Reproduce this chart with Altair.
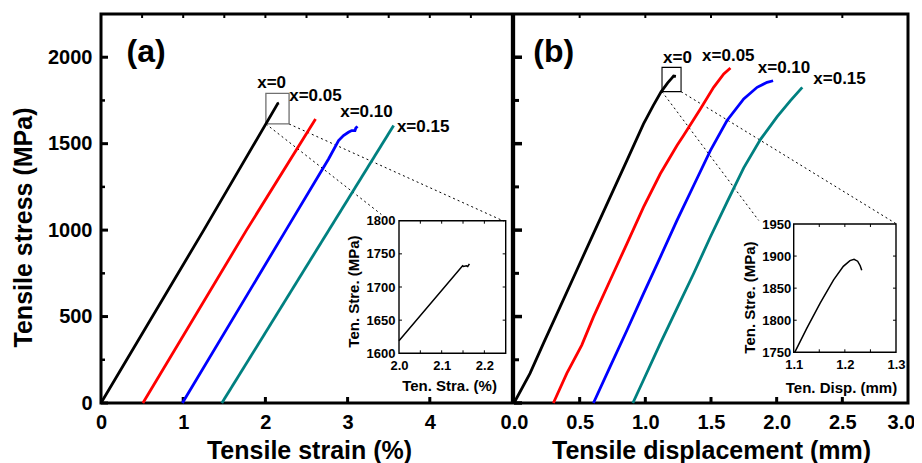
import altair as alt
import pandas as pd

# ---------------- data ----------------
SERIES = ["x=0", "x=0.05", "x=0.10", "x=0.15"]
COLORS = ["#000000", "#ff0000", "#0000ff", "#008080"]

# panel (a): tensile strain (%) -> tensile stress (MPa)
a_strain_0 = [0.0, 1.25, 2.15, 2.165]
a_stress_0 = [0, 1000, 1732, 1735]
a_strain_05 = [0.51, 1.77, 2.61]
a_stress_05 = [0, 1000, 1643]
a_strain_10 = [0.99, 2.25, 2.77, 2.89, 2.95, 3.01, 3.05, 3.09, 3.10, 3.12]
a_stress_10 = [0, 1000, 1413, 1518, 1547, 1566, 1576, 1576, 1590, 1600]
a_strain_15 = [1.47, 3.56]
a_stress_15 = [0, 1605]

# panel (b): tensile displacement (mm) -> tensile stress (MPa)
b_disp_0 = [0.0, 0.122, 0.224, 0.351, 0.478, 0.605, 0.732, 0.86, 0.986, 1.06, 1.12, 1.17, 1.20, 1.215, 1.233]
b_stress_0 = [0, 171, 345, 556, 768, 980, 1191, 1403, 1614, 1720, 1800, 1852, 1878, 1891, 1889]
b_disp_05 = [0.30, 0.402, 0.516, 0.605, 0.732, 0.86, 0.986, 1.114, 1.241, 1.291, 1.419, 1.52, 1.597, 1.648]
b_stress_05 = [0, 171, 335, 498, 710, 922, 1133, 1326, 1489, 1547, 1701, 1826, 1903, 1938]
b_disp_10 = [0.605, 0.732, 0.86, 0.986, 1.114, 1.241, 1.368, 1.495, 1.622, 1.749, 1.851, 1.927, 1.973]
b_stress_10 = [0, 210, 421, 633, 844, 1056, 1258, 1460, 1634, 1759, 1826, 1855, 1864]
b_disp_15 = [0.905, 0.986, 1.114, 1.241, 1.368, 1.495, 1.622, 1.749, 1.877, 2.004, 2.105, 2.195]
b_stress_15 = [0, 133, 345, 547, 749, 960, 1162, 1360, 1525, 1656, 1749, 1826]

# insets (x = 0 only)
ia_strain = [2.0, 2.149, 2.151, 2.158, 2.161, 2.165]
ia_stress = [1619, 1732, 1731, 1732, 1731, 1735]
ib_disp = [1.102, 1.126, 1.152, 1.178, 1.197, 1.210, 1.218, 1.225, 1.230, 1.233]
ib_stress = [1750, 1788, 1827, 1863, 1884, 1893, 1895, 1892, 1885, 1878]

# curve labels (left end of text, baseline) in each panel's data units
a_lab_x = [1.90, 2.29, 2.91, 3.60]
a_lab_y = [1822, 1745, 1657, 1570]
b_lab_x = [1.135, 1.432, 1.856, 2.279]
b_lab_y = [1964, 1976, 1907, 1845]

# zoom boxes and dashed connectors (panel data units)
a_box = [2.006, 2.288, 1614, 1791]
b_box = [1.127, 1.272, 1801, 1941]
a_conn_x1 = [2.006, 2.288]
a_conn_y1 = [1614, 1614]
a_conn_x2 = [3.41, 4.90]
a_conn_y2 = [1091, 1052]
b_conn_x1 = [1.127, 1.272]
b_conn_y1 = [1801, 1801]
b_conn_x2 = [1.863, 2.914]
b_conn_y2 = [1056, 1035]

# axis domains and tick values
A_XDOM = [0, 5]
B_XDOM = [0, 3]
YDOM = [0, 2250]
IA_XDOM = [2.0, 2.25]
IA_YDOM = [1600, 1800]
IB_XDOM = [1.1, 1.3]
IB_YDOM = [1750, 1950]

stress_labels = [0, 500, 1000, 1500, 2000]
stress_minor = [250, 750, 1250, 1750]
strain_labels = [0, 1, 2, 3, 4]
strain_bottom_ticks = [1, 2, 3, 4]
strain_top_ticks = [0.5, 1, 1.5, 2, 2.5, 3, 3.5, 4, 4.5]
disp_labels = [0.0, 0.5, 1.0, 1.5, 2.0, 2.5, 3.0]
disp_bottom_ticks = [0.5, 1.0, 1.5, 2.0, 2.5]
disp_top_ticks = [0.5, 1.0, 1.5, 2.0, 2.5]
ia_x_labels = [2.0, 2.1, 2.2]
ia_x_ticks = [2.05, 2.1, 2.15, 2.2]
ia_y_labels = [1600, 1650, 1700, 1750, 1800]
ia_y_ticks = [1650, 1700, 1750]
ib_x_labels = [1.1, 1.2, 1.3]
ib_x_ticks = [1.15, 1.2, 1.25]
ib_y_labels = [1750, 1800, 1850, 1900, 1950]
ib_y_ticks = [1800, 1850, 1900]

# ---------------- layout (pixels inside the plot area) ----------------
W, H = 807, 389
A_XR = [0, 411]
B_XR = [413, 807]
Y_R = [389, 0]
IA_XR = [298, 404.7]
IA_YR = [339.3, 206.7]
IB_XR = [692.7, 795]
IB_YR = [338.3, 210]
FONT = "Liberation Sans"


def sc(dom, rng):
    return alt.Scale(domain=dom, range=rng, nice=False, zero=False)


xa, ya = sc(A_XDOM, A_XR), sc(YDOM, Y_R)
xb, yb = sc(B_XDOM, B_XR), sc(YDOM, Y_R)
xia, yia = sc(IA_XDOM, IA_XR), sc(IA_YDOM, IA_YR)
xib, yib = sc(IB_XDOM, IB_XR), sc(IB_YDOM, IB_YR)
cscale = alt.Scale(domain=SERIES, range=COLORS)

common_axis = dict(ticks=False, tickSize=0, domain=False, grid=False,
                   labelFlush=False, labelOverlap=False,
                   labelFont=FONT, labelFontWeight="bold", labelColor="black",
                   titleFont=FONT, titleFontWeight="bold", titleColor="black")


def curves_df(xs_list, ys_list):
    rows = []
    for s, xs, ys in zip(SERIES, xs_list, ys_list):
        for i, (x, y) in enumerate(zip(xs, ys)):
            rows.append({"s": s, "i": i, "x": x, "y": y})
    return pd.DataFrame(rows)


def ticks_h(vals, edge, xs, ys, length, width):
    df = pd.DataFrame({"v": vals, "e": [edge] * len(vals)})
    return alt.Chart(df).mark_rule(color="black", strokeWidth=width, x2Offset=length).encode(
        y=alt.Y("v:Q", scale=ys, axis=None),
        x=alt.X("e:Q", scale=xs, axis=None), x2="e:Q")


def ticks_v(vals, edge, xs, ys, length, width):
    df = pd.DataFrame({"v": vals, "e": [edge] * len(vals)})
    return alt.Chart(df).mark_rule(color="black", strokeWidth=width, y2Offset=length).encode(
        x=alt.X("v:Q", scale=xs, axis=None),
        y=alt.Y("e:Q", scale=ys, axis=None), y2="e:Q")


def box(b, xs, ys, color, width):
    df = pd.DataFrame({"x1": [b[0]], "x2": [b[1]], "y1": [b[2]], "y2": [b[3]]})
    return alt.Chart(df).mark_rect(fillOpacity=0, stroke=color, strokeWidth=width).encode(
        x=alt.X("x1:Q", scale=xs, axis=None), x2="x2:Q",
        y=alt.Y("y1:Q", scale=ys, axis=None), y2="y2:Q")


def connectors(x1, y1, x2, y2, xs, ys):
    df = pd.DataFrame({"x1": x1, "y1": y1, "x2": x2, "y2": y2})
    return alt.Chart(df).mark_rule(color="black", strokeWidth=1, strokeDash=[2, 3]).encode(
        x=alt.X("x1:Q", scale=xs, axis=None), x2="x2:Q",
        y=alt.Y("y1:Q", scale=ys, axis=None), y2="y2:Q")


def labels(xs_v, ys_v, texts, xs, ys, size):
    df = pd.DataFrame({"x": xs_v, "y": ys_v, "t": texts})
    return alt.Chart(df).mark_text(align="left", baseline="alphabetic", font=FONT,
                                   fontWeight="bold", fontSize=size, color="black").encode(
        x=alt.X("x:Q", scale=xs, axis=None), y=alt.Y("y:Q", scale=ys, axis=None), text="t:N")


# ---------------- panel (a) ----------------
df_a = curves_df([a_strain_0, a_strain_05, a_strain_10, a_strain_15],
                 [a_stress_0, a_stress_05, a_stress_10, a_stress_15])
lines_a = alt.Chart(df_a).mark_line(strokeWidth=2.8).encode(
    x=alt.X("x:Q", scale=xa, axis=alt.Axis(
        orient="bottom", values=strain_labels, format="d", labelPadding=25,
        labelBaseline="alphabetic", labelFontSize=20,
        title="Tensile strain (%)", titleFontSize=25, titleX=208, titleY=55,
        titleBaseline="alphabetic", titleAlign="center", **common_axis)),
    y=alt.Y("y:Q", scale=ya, axis=alt.Axis(
        orient="left", values=stress_labels, format="d", labelPadding=9, labelFontSize=20,
        title="Tensile stress (MPa)", titleFontSize=25, titleAngle=270, titleX=-70, titleY=213,
        titleBaseline="alphabetic", titleAlign="center", **common_axis)),
    color=alt.Color("s:N", scale=cscale, legend=None),
    order="i:Q")

# ---------------- panel (b) ----------------
df_b = curves_df([b_disp_0, b_disp_05, b_disp_10, b_disp_15],
                 [b_stress_0, b_stress_05, b_stress_10, b_stress_15])
lines_b = alt.Chart(df_b).mark_line(strokeWidth=2.8).encode(
    x=alt.X("x:Q", scale=xb, axis=alt.Axis(
        orient="bottom", values=disp_labels, format=".1f", labelPadding=25,
        labelBaseline="alphabetic", labelFontSize=20,
        labelOffset={"condition": {"test": "datum.value >= 3", "value": -7}, "value": 0},
        title="Tensile displacement (mm)", titleFontSize=25, titleX=610, titleY=55,
        titleBaseline="alphabetic", titleAlign="center", **common_axis)),
    y=alt.Y("y:Q", scale=yb, axis=None),
    color=alt.Color("s:N", scale=cscale, legend=None),
    order="i:Q")

# ---------------- insets ----------------
df_ia = pd.DataFrame({"i": range(len(ia_strain)), "x": ia_strain, "y": ia_stress})
lines_ia = alt.Chart(df_ia).mark_line(strokeWidth=1.5, color="black").encode(
    x=alt.X("x:Q", scale=xia, axis=alt.Axis(
        orient="bottom", offset=-(H - IA_YR[0]), values=ia_x_labels, format=".1f",
        labelPadding=16, labelBaseline="alphabetic", labelFontSize=13,
        title="Ten. Stra. (%)", titleFontSize=15, titleX=348, titleY=37,
        titleBaseline="alphabetic", titleAlign="center", **common_axis)),
    y=alt.Y("y:Q", scale=yia, axis=alt.Axis(
        orient="left", offset=-IA_XR[0], values=ia_y_labels, format="d",
        labelPadding=4, labelFontSize=13,
        title="Ten. Stre. (MPa)", titleFontSize=15, titleAngle=270, titleX=-40.5, titleY=277,
        titleBaseline="alphabetic", titleAlign="center", **common_axis)),
    order="i:Q")

df_ib = pd.DataFrame({"i": range(len(ib_disp)), "x": ib_disp, "y": ib_stress})
lines_ib = alt.Chart(df_ib).mark_line(strokeWidth=1.5, color="black").encode(
    x=alt.X("x:Q", scale=xib, axis=alt.Axis(
        orient="bottom", offset=-(H - IB_YR[0]), values=ib_x_labels, format=".1f",
        labelPadding=16, labelBaseline="alphabetic", labelFontSize=13,
        title="Ten. Disp. (mm)", titleFontSize=15, titleX=740, titleY=40,
        titleBaseline="alphabetic", titleAlign="center", **common_axis)),
    y=alt.Y("y:Q", scale=yib, axis=alt.Axis(
        orient="left", offset=-IB_XR[0], values=ib_y_labels, format="d",
        labelPadding=3, labelFontSize=13,
        title="Ten. Stre. (MPa)", titleFontSize=15, titleAngle=270, titleX=-39.7, titleY=283,
        titleBaseline="alphabetic", titleAlign="center", **common_axis)),
    order="i:Q")

# divider between the panels
divider = alt.Chart(pd.DataFrame({"e": [A_XDOM[1]]})).mark_rule(
    color="black", strokeWidth=4.3, xOffset=1).encode(x=alt.X("e:Q", scale=xa, axis=None))

layers = [
    # ticks of main panels
    ticks_h(stress_labels, A_XDOM[0], xa, ya, 7, 3),
    ticks_h(stress_minor, A_XDOM[0], xa, ya, 4, 2.5),
    ticks_v(strain_bottom_ticks, YDOM[0], xa, ya, -6, 3),
    ticks_v(strain_top_ticks, YDOM[1], xa, ya, 4, 2),
    ticks_h(stress_labels, B_XDOM[0], xb, yb, 8, 3.5),
    ticks_h(stress_minor, B_XDOM[0], xb, yb, 5, 3),
    ticks_v(disp_bottom_ticks, YDOM[0], xb, yb, -6, 3),
    ticks_v(disp_top_ticks, YDOM[1], xb, yb, 4, 2),
    # inset frames and ticks
    box([IA_XDOM[0], IA_XDOM[1], IA_YDOM[0], IA_YDOM[1]], xia, yia, "black", 1.4),
    box([IB_XDOM[0], IB_XDOM[1], IB_YDOM[0], IB_YDOM[1]], xib, yib, "black", 1.4),
    ticks_v(ia_x_ticks, IA_YDOM[0], xia, yia, -3, 1),
    ticks_v(ia_x_ticks, IA_YDOM[1], xia, yia, 3, 1),
    ticks_h(ia_y_ticks, IA_XDOM[0], xia, yia, 3, 1),
    ticks_h(ia_y_ticks, IA_XDOM[1], xia, yia, -3, 1),
    ticks_v(ib_x_ticks, IB_YDOM[0], xib, yib, -3, 1),
    ticks_v(ib_x_ticks, IB_YDOM[1], xib, yib, 3, 1),
    ticks_h(ib_y_ticks, IB_XDOM[0], xib, yib, 3, 1),
    ticks_h(ib_y_ticks, IB_XDOM[1], xib, yib, -3, 1),
    # zoom boxes and connectors
    connectors(a_conn_x1, a_conn_y1, a_conn_x2, a_conn_y2, xa, ya),
    connectors(b_conn_x1, b_conn_y1, b_conn_x2, b_conn_y2, xb, yb),
    box(a_box, xa, ya, "#707070", 1.3),
    box(b_box, xb, yb, "black", 1.1),
    # curves
    lines_a, lines_b, lines_ia, lines_ib,
    # labels
    labels(a_lab_x, a_lab_y, SERIES, xa, ya, 17),
    labels(b_lab_x, b_lab_y, SERIES, xb, yb, 17),
    labels([0.311], [1971], ["(a)"], xa, ya, 32),
    labels([0.147], [1971], ["(b)"], xb, yb, 32),
    divider,
]

chart = alt.layer(*layers).resolve_scale(
    x="independent", y="independent"
).resolve_axis(
    x="independent", y="independent"
).properties(
    width=W, height=H,
    padding={"left": 93, "top": 6, "right": 6, "bottom": 60},
    autosize=alt.AutoSizeParams(type="none"),
    background="white",
).configure(font=FONT).configure_view(stroke="black", strokeWidth=3)

chart.save("out.html", embed_options={"renderer": "svg", "actions": False})
